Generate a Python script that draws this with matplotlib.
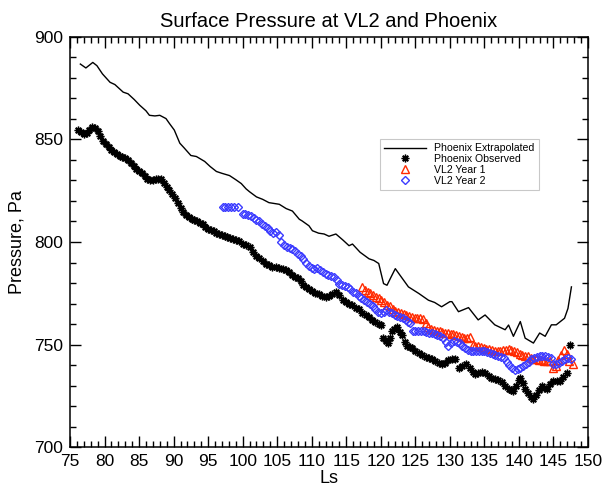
import matplotlib
matplotlib.use("Agg")
import matplotlib.pyplot as plt
from matplotlib.ticker import MultipleLocator
from matplotlib.lines import Line2D

plt.rcParams['font.family'] = ['Liberation Sans', 'DejaVu Sans']

# Phoenix Extrapolated (line)
ext_ls = [76.5, 77.3, 78.3, 78.9, 79.7, 80.8, 81.5, 82.7, 83.4, 84.3, 85.1, 86.0, 86.5, 87.3, 88.0,
          88.9, 89.4, 90.1, 90.9, 91.5, 92.5, 93.3, 94.5, 95.3, 96.2, 97.0, 98.1, 99.0, 99.8, 100.5,
          101.0, 102.0, 102.9, 103.8, 105.3, 106.3, 107.2, 108.2, 108.6, 109.6, 110.1, 111.0, 111.8,
          112.5, 113.5, 114.5, 115.4, 115.9, 117.0, 118.3, 119.0, 119.7, 120.4, 120.9, 121.5, 122.1,
          122.8, 124.0, 125.5, 126.9, 127.8, 128.8, 130.0, 130.3, 131.25, 132.7, 133.4, 134.1, 135.1,
          135.8, 136.5, 138.0, 138.5, 139.2, 140.2, 140.9, 142.1, 143.0, 143.8, 144.7, 145.4, 146.6,
          147.1, 147.6]
ext_p = [886.8, 884.9, 887.6, 886.0, 882.0, 877.9, 876.8, 873.1, 872.3, 869.5, 866.7, 864.0, 861.8,
         861.5, 861.8, 860.2, 857.8, 854.6, 848.2, 846.0, 842.2, 841.7, 839.3, 836.8, 834.4, 833.5,
         832.4, 830.4, 828.5, 825.9, 824.5, 822.0, 820.8, 819.2, 818.4, 816.3, 815.1, 811.1, 810.3,
         807.9, 805.5, 804.3, 803.9, 802.8, 803.9, 801.0, 798.2, 799.0, 795.0, 791.8, 791.0, 789.5,
         779.7, 778.9, 783.0, 787.0, 783.7, 778.1, 774.9, 771.6, 770.5, 768.4, 770.9, 770.9, 766.0,
         768.0, 765.0, 762.0, 764.4, 762.0, 759.6, 757.2, 759.5, 754.0, 761.2, 753.1, 750.7, 755.6,
         754.0, 759.6, 759.6, 762.8, 767.6, 778.1]

# Phoenix Observed (asterisks)
obs_ls = [76.2, 76.6, 77.0, 77.4, 77.8, 78.2, 78.6, 79.0, 79.4, 79.8, 80.2, 80.6, 81.0, 81.4, 81.8,
          82.2, 82.6, 83.0, 83.4, 83.8, 84.2, 84.6, 85.0, 85.4, 85.8, 86.2, 86.6, 87.0, 87.4, 87.8,
          88.2, 88.6, 89.0, 89.4, 89.8, 90.2, 90.6, 91.0, 91.4, 91.8, 92.2, 92.6, 93.0, 93.4, 93.8,
          94.2, 94.6, 95.0, 95.4, 95.8, 96.2, 96.6, 97.0, 97.4, 97.8, 98.2, 98.6, 99.0, 99.5, 100.0,
          100.5, 101.0, 101.5, 101.9, 102.4, 102.9, 103.4, 103.8, 104.3, 104.8, 105.3, 105.8, 106.3,
          106.7, 107.2, 107.6, 108.0, 108.4, 108.8, 109.2, 109.6, 110.0, 110.5, 111.0, 111.5, 112.0,
          112.5, 113.0, 113.5, 114.0, 114.5, 114.9, 115.4, 115.9, 116.4, 116.8, 117.3, 117.8, 118.3,
          118.7, 119.2, 119.7, 120.0, 120.3, 120.7, 121.0, 121.3, 121.6, 121.9, 122.4, 122.8, 123.1,
          123.5, 123.8, 124.2, 124.5, 125.0, 125.5, 126.0, 126.5, 127.0, 127.4, 127.9, 128.4, 128.8,
          129.3, 129.8, 130.3, 130.8, 131.25, 131.8, 132.4, 132.9, 133.3, 133.65, 134.1, 134.6, 135.1,
          135.6, 136.0, 136.5, 137.0, 137.5, 138.0, 138.5, 138.9, 139.2, 139.6, 140.0, 140.2, 140.6,
          140.9, 141.3, 141.7, 142.1, 142.5, 142.9, 143.3, 143.7, 144.0, 144.5, 145.0, 145.5, 145.9,
          146.4, 146.9, 147.35]
obs_p = [854.6, 853.5, 852.5, 853.0, 854.5, 856.0, 855.5, 854.0, 851.5, 849.5, 848.0, 846.5, 845.0,
         844.0, 843.0, 842.0, 841.5, 841.0, 840.0, 838.5, 837.0, 835.5, 834.5, 833.5, 832.0, 830.8,
         830.4, 830.4, 830.5, 830.8, 830.5, 829.0, 827.0, 825.6, 823.5, 821.5, 819.0, 816.8, 814.5,
         813.0, 812.0, 811.3, 810.5, 810.0, 809.5, 808.7, 807.5, 806.5, 806.0, 805.5, 804.5, 803.9,
         803.3, 802.8, 802.3, 802.0, 801.4, 801.0, 800.6, 799.0, 798.5, 797.5, 795.0, 793.0, 792.0,
         790.5, 789.5, 788.6, 788.0, 787.8, 787.5, 786.8, 786.1, 785.5, 784.0, 783.0, 782.5, 781.0,
         779.0, 778.0, 777.0, 776.0, 775.0, 774.5, 773.8, 773.3, 773.5, 774.8, 775.7, 774.0, 771.5,
         770.9, 770.0, 769.2, 768.0, 767.2, 765.5, 764.5, 763.5, 762.0, 761.0, 760.0, 759.6, 753.0,
         751.5, 750.7, 753.0, 756.4, 757.5, 758.5, 756.0, 754.7, 751.0, 749.1, 748.6, 748.3, 747.0,
         746.0, 745.1, 744.0, 743.5, 742.7, 741.8, 741.0, 740.3, 741.0, 742.5, 743.0, 742.7, 738.6,
         739.5, 740.3, 738.5, 736.5, 735.4, 736.2, 736.8, 736.2, 734.5, 733.8, 733.0, 732.5, 731.5,
         729.8, 728.5, 727.8, 727.4, 730.0, 732.5, 733.8, 731.0, 728.2, 726.5, 724.5, 723.3, 725.5,
         728.0, 729.8, 729.0, 728.2, 730.5, 732.2, 732.2, 732.2, 734.0, 736.2, 749.9]

# VL2 Year 1 (red triangles)
vl1_ls = [117.3, 117.7, 118.1, 118.5, 118.9, 119.3, 119.7, 120.1, 120.5, 120.9, 121.3, 121.7, 122.1,
          122.5, 122.9, 123.3, 123.7, 124.1, 124.5, 124.9, 125.3, 125.7, 126.1, 126.5, 126.9, 127.3,
          127.7, 128.1, 128.5, 128.9, 129.3, 129.7, 130.1, 130.5, 130.9, 131.3, 131.7, 132.1, 132.5,
          132.9, 133.3, 133.7, 134.1, 134.5, 134.9, 135.3, 135.7, 136.1, 136.5, 136.9, 137.3, 137.7,
          138.1, 138.5, 138.9, 139.3, 139.7, 140.1, 140.5, 140.9, 141.3, 141.7, 142.1, 142.5, 142.9,
          143.3, 143.7, 144.1, 144.5, 144.9, 145.3, 145.7, 146.1, 146.5, 146.9, 147.3, 147.8]
vl1_p = [778.1, 776.5, 775.5, 774.9, 774.0, 773.0, 772.5, 771.5, 770.5, 769.5, 768.6, 767.5, 766.5,
         766.0, 765.6, 765.0, 764.5, 763.8, 763.3, 763.0, 763.0, 763.1, 762.5, 760.5, 758.3, 757.8,
         757.2, 756.8, 756.4, 756.2, 755.8, 755.5, 755.3, 755.0, 754.6, 754.2, 753.8, 753.4, 753.2,
         753.5, 749.8, 749.4, 749.1, 748.6, 748.3, 748.0, 747.6, 747.2, 746.7, 746.8, 747.0, 747.2,
         747.5, 747.6, 747.2, 746.8, 746.3, 745.6, 745.0, 744.6, 744.3, 743.5, 742.7, 742.7, 742.5,
         742.2, 742.0, 742.0, 741.9, 738.6, 739.4, 742.5, 745.1, 747.5, 745.5, 742.0, 740.3]

# VL2 Year 2 (blue diamonds)
vl2_ls = [97.1, 97.5, 97.9, 98.3, 98.7, 99.3, 100.0, 100.4, 100.8, 101.2, 101.6, 102.0, 102.4, 102.8,
          103.2, 103.6, 104.0, 104.4, 104.8, 105.2, 105.6, 106.0, 106.4, 106.8, 107.2, 107.6, 108.0,
          108.4, 108.8, 109.2, 109.6, 110.0, 110.4, 110.8, 111.2, 111.6, 112.0, 112.4, 112.8, 113.2,
          113.6, 114.0, 114.4, 114.8, 115.2, 115.6, 116.0, 116.4, 116.8, 117.2, 117.6, 118.0, 118.4,
          118.8, 119.2, 119.6, 120.0, 120.4, 120.8, 121.2, 121.6, 122.0, 122.4, 122.8, 123.2, 123.6,
          124.0, 124.3, 124.6, 125.0, 125.4, 125.8, 126.2, 126.6, 127.0, 127.4, 127.8, 128.2, 128.6,
          129.0, 129.4, 129.8, 130.2, 130.6, 131.0, 131.4, 131.8, 132.2, 132.6, 133.0, 133.4, 133.8,
          134.2, 134.6, 135.0, 135.4, 135.8, 136.2, 136.6, 137.0, 137.4, 137.8, 138.2, 138.6, 139.0,
          139.4, 139.8, 140.2, 140.6, 141.0, 141.4, 141.8, 142.2, 142.6, 143.0, 143.4, 143.8, 144.2,
          144.6, 145.0, 145.4, 145.8, 146.2, 146.6, 147.1, 147.6]
vl2_p = [817.2, 817.2, 817.2, 817.2, 817.2, 817.2, 813.5, 813.5, 813.2, 812.5, 811.5, 810.8, 810.0,
         809.0, 807.8, 807.0, 805.5, 804.5, 805.0, 803.5, 800.0, 798.5, 797.4, 797.0, 796.6, 795.5,
         794.2, 793.0, 791.5, 790.0, 788.5, 787.5, 787.0, 787.2, 786.5, 785.4, 784.5, 784.0, 783.5,
         783.0, 781.3, 779.7, 778.9, 778.5, 778.1, 777.0, 775.8, 774.9, 773.5, 772.5, 771.5, 770.5,
         769.8, 769.0, 767.5, 765.8, 765.2, 766.0, 766.8, 766.0, 765.2, 764.4, 764.0, 763.2, 762.8,
         762.0, 761.0, 760.4, 756.5, 756.5, 756.7, 756.7, 756.5, 756.2, 755.8, 755.6, 755.0, 754.7,
         754.2, 753.0, 751.0, 749.4, 750.8, 751.5, 751.3, 750.8, 749.5, 748.3, 747.5, 747.0, 746.8,
         746.7, 746.7, 746.7, 746.7, 746.2, 745.8, 745.4, 745.1, 744.5, 744.0, 743.3, 741.5, 740.0,
         738.3, 737.8, 738.0, 738.5, 739.5, 740.5, 741.5, 742.8, 743.5, 744.0, 744.3, 744.3, 744.2,
         744.0, 743.5, 740.3, 740.3, 741.0, 741.9, 742.8, 743.5, 742.7]

title = "Surface Pressure at VL2 and Phoenix"
xlabel = "Ls"
ylabel = "Pressure, Pa"
labels = ["Phoenix Extrapolated", "Phoenix Observed", "VL2 Year 1", "VL2 Year 2"]

fig = plt.figure(figsize=(6.03, 4.90), dpi=100)
ax = fig.add_axes([70/603, 1-447/490, 518/603, 410/490])

star = (8, 2, 0)
red = '#ff2a00'
blue = '#3c3cff'
ax.plot(ext_ls, ext_p, color='black', lw=1.0)
ax.plot(obs_ls, obs_p, ls='none', marker=star, ms=5.5, mec='black', mew=1.0, color='black')
ax.plot(vl1_ls, vl1_p, ls='none', marker='^', ms=6, mfc='none', mec=red, mew=1.0)
ax.plot(vl2_ls, vl2_p, ls='none', marker='D', ms=4.3, mfc='none', mec=blue, mew=1.0)

ax.set_xlim(75, 150)
ax.set_ylim(700, 900)
ax.xaxis.set_major_locator(MultipleLocator(5))
ax.xaxis.set_minor_locator(MultipleLocator(1))
ax.yaxis.set_major_locator(MultipleLocator(50))
ax.yaxis.set_minor_locator(MultipleLocator(10))
ax.tick_params(which='both', direction='in', top=True, right=True, labelsize=12.5, width=1)
ax.tick_params(which='major', length=8, pad=5)
ax.tick_params(which='minor', length=4)
for s in ax.spines.values():
    s.set_linewidth(1.1)

ax.set_title(title, fontsize=14.5, pad=7)
ax.set_xlabel(xlabel, fontsize=13, labelpad=1)
ax.set_ylabel(ylabel, fontsize=13, labelpad=6)

handles = [
    Line2D([], [], color='black', lw=1.0),
    Line2D([], [], ls='none', marker=star, ms=5.5, mec='black', mew=1.0),
    Line2D([], [], ls='none', marker='^', ms=6, mfc='none', mec=red, mew=1.0),
    Line2D([], [], ls='none', marker='D', ms=4.3, mfc='none', mec=blue, mew=1.0),
]
leg = fig.legend(handles, labels, loc='upper left', bbox_to_anchor=(380/603, 1-139/490),
                 fontsize=7.6, frameon=True, fancybox=False, handlelength=4.0,
                 handletextpad=0.75, labelspacing=0.08, borderpad=0.4, borderaxespad=0)
leg.get_frame().set_edgecolor('#bbbbbb')
leg.get_frame().set_linewidth(0.8)

fig.savefig("out.png", dpi=100)
